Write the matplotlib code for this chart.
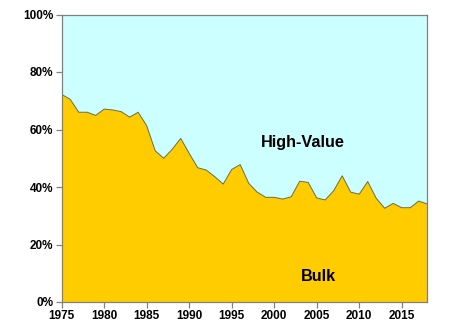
import matplotlib
matplotlib.use("Agg")
import matplotlib.pyplot as plt
import numpy as np
from matplotlib.ticker import PercentFormatter

plt.rcParams['font.family'] = ['Liberation Sans', 'DejaVu Sans']

years = list(range(1975, 2019))
bulk_share = [72.2, 70.5, 66.0, 66.0, 64.9, 67.1, 66.8, 66.2, 64.3, 66.0,
              61.3, 52.6, 50.0, 53.1, 56.9, 51.7, 46.7, 45.9, 43.6, 41.0,
              46.1, 47.8, 41.3, 38.2, 36.4, 36.4, 35.8, 36.6, 42.0, 41.6,
              36.2, 35.5, 38.7, 43.9, 38.2, 37.5, 41.9, 36.1, 32.6, 34.3,
              32.8, 32.8, 35.1, 34.1]
high_value_share = [100 - b for b in bulk_share]

bulk_color = '#FFCC00'
hv_color = '#CCFFFF'

W, H = 451, 325
fig = plt.figure(figsize=(W / 100, H / 100), dpi=100)
ax = fig.add_axes([61.7 / W, 1 - 302 / H, (427.2 - 61.7) / W, (302 - 14.5) / H])

ax.stackplot(years, bulk_share, high_value_share,
             colors=[bulk_color, hv_color], linewidth=0)
ax.plot(years, bulk_share, color='#6b6b3a', linewidth=0.7)

ax.set_xlim(1975, 2018)
ax.set_ylim(0, 100)
ax.set_xticks(range(1975, 2016, 5))
ax.set_yticks(range(0, 101, 20))
ax.yaxis.set_major_formatter(PercentFormatter(decimals=0))

for s in ax.spines.values():
    s.set_color('#808080')
    s.set_linewidth(0.9)
ax.tick_params(axis='both', direction='out', length=4, width=0.9, color='#808080',
               labelsize=8.5, pad=2)
for lab in ax.get_xticklabels() + ax.get_yticklabels():
    lab.set_fontweight('bold')

# area labels, placed in figure coordinates
ax.text(302.7 / W, 1 - 143 / H, 'High-Value', fontsize=11.7, fontweight='bold',
        ha='center', va='center', transform=fig.transFigure)
ax.text(318 / W, 1 - 276.7 / H, 'Bulk', fontsize=11.7, fontweight='bold',
        ha='center', va='center', transform=fig.transFigure)

fig.savefig('out.png', dpi=100)
